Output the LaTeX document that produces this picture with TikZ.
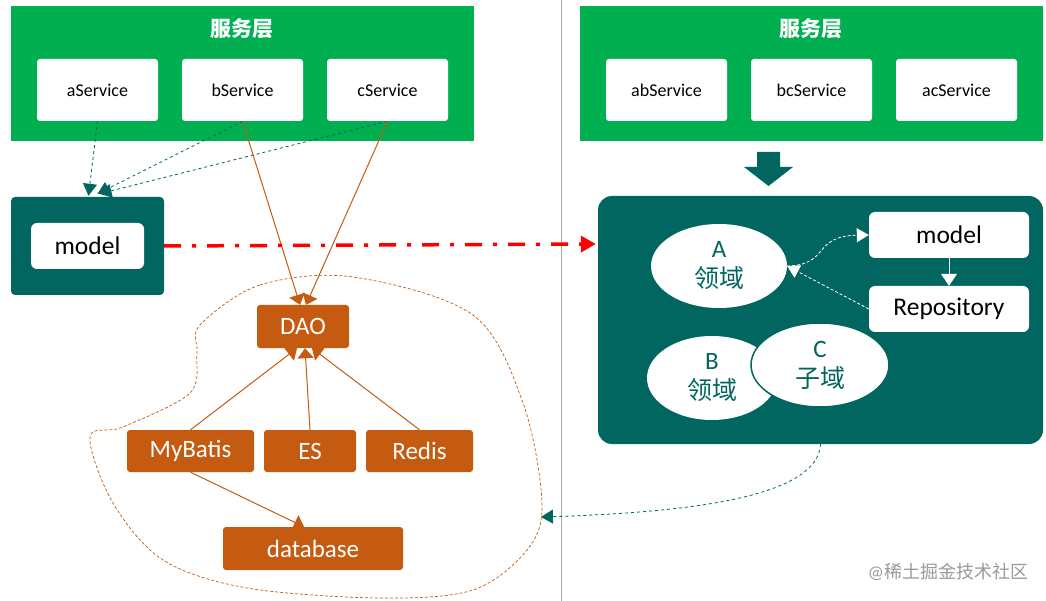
\documentclass[tikz,border=0pt]{standalone}
\usepackage{fontspec}
\setmainfont{Carlito}
\newfontfamily\cjk{Noto Sans CJK SC}
\usetikzlibrary{arrows.meta,calc,shapes.geometric}
\definecolor{lgreen}{HTML}{00B050}
\definecolor{dteal}{HTML}{01665F}
\definecolor{orng}{HTML}{C55A11}
\definecolor{wgray}{HTML}{9A9A9A}
\tikzset{
  layer/.style={fill=lgreen, minimum width=463, minimum height=135, inner sep=0},
  ltitle/.style={text=white, font=\fontsize{21}{23}\selectfont\cjk\bfseries},
  svc/.style={fill=white, rounded corners=3, minimum width=121, minimum height=62, inner sep=0, font=\fontsize{18}{20}\selectfont},
  tealbox/.style={fill=dteal, inner sep=0},
  wbox/.style={fill=white, rounded corners=6, minimum width=160, minimum height=46, inner sep=0, font=\fontsize{25.5}{28}\selectfont},
  obox/.style={fill=orng, text=white, rounded corners=3, minimum height=42, inner sep=0, font=\fontsize{25}{28}\selectfont},
  dom/.style={ellipse, fill=white, inner sep=0, text=dteal, align=center, font=\fontsize{25}{29}\selectfont},
  cjkdom/.style={},
  tealdash/.style={draw=dteal, line width=0.8, dashed, -{Triangle[length=12,width=14]}},
  oline/.style={draw=orng, line width=1, -{Triangle[length=10,width=16]}},
  wdash/.style={draw=white, line width=0.8, densely dashed, -{Triangle[length=12,width=14,fill=white]}},
}
\newcommand{\domtxt}[2]{#1\\[1pt]{\cjk\fontsize{25}{28}\selectfont #2}}
\begin{document}
\begin{tikzpicture}[x=1pt,y=-1pt]
\useasboundingbox (0,0) rectangle (1046,601);
\fill[white] (0,0) rectangle (1046,601);
% divider
\draw[gray!70, line width=0.8] (561,0) -- (561,601);

% left service layer
\node[layer] (L) at (242.5,73.5) {};
\node[ltitle] (Lt) at (242,29) {服务层};
\node[svc] (aS) at (97.5,90) {aService};
\node[svc] (bS) at (242.5,90) {bService};
\node[svc] (cS) at (387.5,90) {cService};

% right service layer
\node[layer] (R) at (811.5,73.5) {};
\node[ltitle] (Rt) at (811,29) {服务层};
\node[svc] (abS) at (666.5,90) {abService};
\node[svc] (bcS) at (811.5,90) {bcService};
\node[svc] (acS) at (956.5,90) {acService};

% left model
\node[tealbox, rounded corners=4, minimum width=153, minimum height=98] (lm) at (87.5,246) {};
\node[wbox, minimum width=113] (lmi) at (87.5,246) {model};

% dashed arrows to model
\draw[tealdash] (aS.south) -- ($(lm.north)+(1,-1)$);
\draw[tealdash] (bS.south) -- ($(lm.north)+(10,-3)$);
\draw[tealdash] (cS.south) -- ($(lm.north)+(12,-3)$);

% orange boxes
\node[obox, minimum width=92, minimum height=43] (dao) at (303,326.5) {DAO};
\node[obox, minimum width=127] (mb) at (190.5,451) {MyBatis};
\node[obox, minimum width=92] (es) at (310,451) {ES};
\node[obox, minimum width=107] (rd) at (419.5,451) {Redis};
\node[obox, minimum width=180, minimum height=43] (db) at (313,548.5) {database};

\draw[oline] (bS.south) -- ($(dao.north)+(-3,0)$);
\draw[oline] (cS.south) -- ($(dao.north)+(3,0)$);
\draw[oline] (mb.north) -- ($(dao.south)+(-6,0)$);
\draw[oline] (es.north) -- ($(dao.south)+(2,0)$);
\draw[oline] (rd.north) -- ($(dao.south)+(9,0)$);
\draw[oline] (mb.south) -- ($(db.north)+(-9,0)$);

% blob outline
\draw[orng, line width=0.7, densely dashed] plot[smooth cycle, tension=0.55] coordinates {
 (200,325) (260,285) (353,277) (473,315) (523,403) (542,503) (527,550)
 (473,590) (380,598) (247,588) (163,560) (113,503) (90,437) (123,427)
 (190,393) (197,353)};
\coordinate (blobR) at (541,517);

% right domain box
\node[tealbox, rounded corners=14, minimum width=445, minimum height=248] (rb) at (820.5,320) {};
\fill[dteal] (757,152) -- (780,152) -- (780,167) -- (793,167) -- (768.5,186) -- (744,167) -- (757,167) -- cycle;

% red dash-dot
\draw[red, line width=3.5, dash pattern=on 17pt off 11pt on 4pt off 11pt,
  -{Triangle[length=15,width=16]}] (lm.east) -- ($(rb.west)+(-2,-76)$);

% domains
\node[dom, minimum width=136, minimum height=84] (A) at (719,266) {\domtxt{A}{领域}};
\node[dom, minimum width=130, minimum height=84] (B) at (712,378) {\domtxt{B}{领域}};
\node[dom, draw=dteal, line width=1.5, minimum width=138, minimum height=84] (C) at (820,365) {\domtxt{C}{子域}};

\node[wbox] (rm) at (949,235) {model};
\node[wbox] (repo) at (949,309) {Repository};

\draw[white, line width=1, -{Triangle[length=12,width=16]}] (rm.south) -- (repo.north);
\draw[wdash] (A.east) .. controls (830,265) and (812,236) .. (rm.west);
\draw[wdash] (repo.west) -- (A.east);

% back to blob
\draw[tealdash] (rb.south) .. controls (818,495) and (700,512) .. (blobR);

% watermark
\node[text=wgray, font=\fontsize{18}{20}\selectfont] (wm) at (948,572) {@{\cjk 稀土掘金技术社区}};
\end{tikzpicture}
\end{document}
